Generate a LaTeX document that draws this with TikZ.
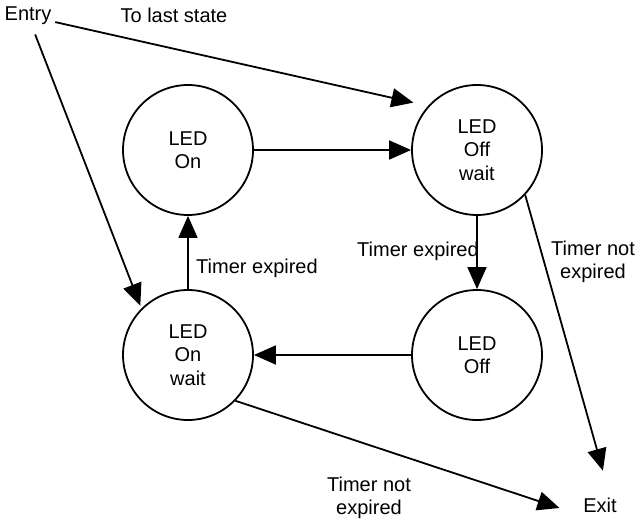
\documentclass[tikz,border=0pt]{standalone}
\usepackage{fontspec}
\setmainfont{Liberation Sans}
\usetikzlibrary{arrows.meta,positioning}

\begin{document}
\begin{tikzpicture}[x=1pt, y=-1pt, >={Triangle[length=22pt,width=19pt]}, line width=1.8pt,
        state/.style={draw, circle, minimum size=130pt, inner sep=0pt, align=center, font=\fontsize{20}{23.5}\selectfont},
        lbl/.style={align=center, inner sep=3pt, font=\fontsize{20}{23.5}\selectfont}]
    \useasboundingbox (0,0) rectangle (636,521);

    \node[state] (led_on) at (188,150) {LED\\On};
    \node[state] (led_off_wait) at (477,150) {LED\\Off\\wait};
    \node[state] (led_off) at (477,355) {LED\\Off};
    \node[state] (led_on_wait) at (188,355) {LED\\On\\wait};

    \node[lbl] (entry) at (28,16) {Entry};
    \node[lbl] (to_last) at (174,15) {To last state};
    \node[lbl] (exit) at (600,505) {Exit};
    \node[lbl] (up_expired) at (257,268) {Timer expired};
    \node[lbl] (down_expired) at (418,251) {Timer expired};
    \node[lbl] (right_not_expired) at (593,262) {Timer not\\expired};
    \node[lbl] (bottom_not_expired) at (369,498) {Timer not\\expired};

    \draw[->] (led_on) -- (led_off_wait);
    \draw[->] (led_off_wait) -- (led_off);
    \draw[->] (led_off) -- (led_on_wait);
    \draw[->] (led_on_wait) -- (led_on);
    \draw[->, shorten >=15pt] (entry) -- (led_off_wait.138);
    \draw[->, shorten >=3pt, shorten <=6pt] (entry) -- (led_on_wait.135);
    \draw[->, shorten >=24pt] (led_off_wait.-43) -- (exit.50);
    \draw[->, shorten >=21pt] (led_on_wait.-44) -- (exit.205);
\end{tikzpicture}
\end{document}
